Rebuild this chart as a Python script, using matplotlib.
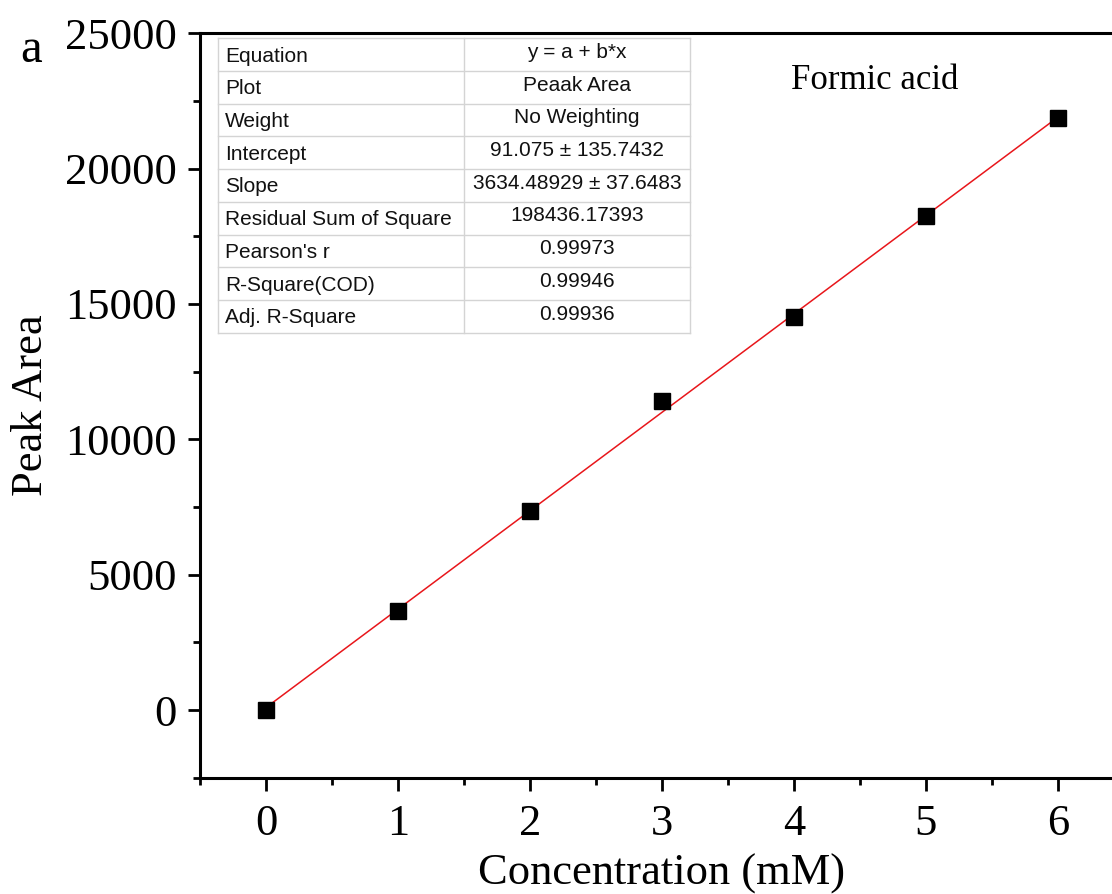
import numpy as np
import matplotlib.pyplot as plt

# DATA
conc = [0, 1, 2, 3, 4, 5, 6]
peak_area = [0, 3670, 7370, 11410, 14510, 18250, 21870]

# linear fit parameters (as reported in the fit table)
intercept = 91.075
slope = 3634.48929

table_keys = ["Equation", "Plot", "Weight", "Intercept", "Slope",
              "Residual Sum of Square", "Pearson's r", "R-Square(COD)",
              "Adj. R-Square"]
table_vals = ["y = a + b*x", "Peaak Area", "No Weighting",
              "91.075 \u00b1 135.7432", "3634.48929 \u00b1 37.6483",
              "198436.17393", "0.99973", "0.99946", "0.99936"]

SERIF = "Liberation Serif"
SANS = "Liberation Sans"

fig = plt.figure(figsize=(11.12, 8.94), dpi=100)
ax = fig.add_axes([0.1799, 0.1301, 0.8307, 0.8327])

# fit line + points
xf = np.array([conc[0], conc[-1]], dtype=float)
ax.plot(xf, intercept + slope * xf, color="#e8161b", lw=1.1, zorder=2)
ax.plot(conc, peak_area, ls="none", marker="s", ms=12, color="black", zorder=3)

ax.set_xlim(-0.5, 6.5)
ax.set_ylim(-2500, 25000)
ax.set_xticks(range(0, 7))
ax.set_xticks(np.arange(-0.5, 6.6, 0.5), minor=True)
ax.set_yticks(range(0, 25001, 5000))
ax.set_yticks(range(-2500, 25001, 2500), minor=True)

for sp in ["left", "bottom", "top"]:
    ax.spines[sp].set_linewidth(2.2)
ax.spines["right"].set_visible(False)
ax.tick_params(which="both", direction="out", width=2.0, top=False, right=False)
ax.tick_params(which="major", length=9, labelsize=32, pad=8)
ax.tick_params(axis="x", which="major", pad=10)
ax.tick_params(which="minor", length=5)
for lab in ax.get_xticklabels() + ax.get_yticklabels():
    lab.set_fontfamily(SERIF)

ax.set_xlabel("Concentration (mM)", fontsize=32, fontfamily=SERIF, labelpad=7)
ax.set_ylabel("Peak Area", fontsize=32, fontfamily=SERIF, labelpad=10)

fig.text(0.018, 0.944, "a", fontsize=35, fontfamily=SERIF, va="center")
ax.text(0.73, 0.937, "Formic acid", transform=ax.transAxes, fontsize=25,
        fontfamily=SERIF, ha="center", va="center")

# fit results table
tx0, tx1, tx2 = 0.0198, 0.2858, 0.5305
ty_top, ty_bot = 0.9933, 0.5978
n = len(table_keys)
rh = (ty_top - ty_bot) / n
grid = dict(transform=ax.transAxes, color="#d4d4d4", lw=1.0, clip_on=False, zorder=4)
for i in range(n + 1):
    y = ty_top - i * rh
    ax.plot([tx0, tx2], [y, y], **grid)
for x in [tx0, tx1, tx2]:
    ax.plot([x, x], [ty_bot, ty_top], **grid)
for i, (k, v) in enumerate(zip(table_keys, table_vals)):
    yc = ty_top - (i + 0.5) * rh
    ax.text(tx0 + 0.007, yc - 0.002, k, transform=ax.transAxes, fontsize=15,
            fontfamily=SANS, ha="left", va="center", color="#111111", zorder=5)
    ax.text((tx1 + tx2) / 2, yc + 0.003, v, transform=ax.transAxes, fontsize=15,
            fontfamily=SANS, ha="center", va="center", color="#111111", zorder=5)

fig.savefig("out.png", dpi=100)
